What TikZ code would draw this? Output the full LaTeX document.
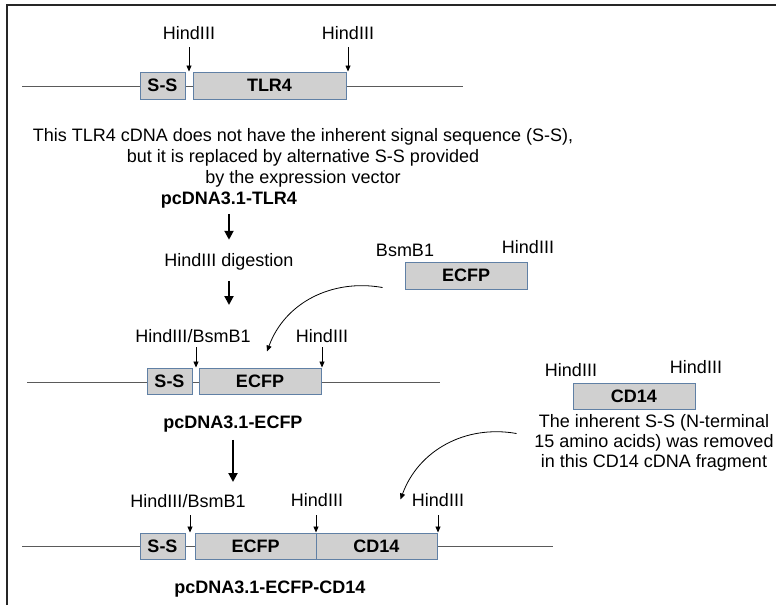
\documentclass[tikz,border=0pt]{standalone}
\usepackage{fontspec}
\setmainfont{Liberation Sans}
\usepackage{tikz}
\usetikzlibrary{positioning}
\usetikzlibrary{calc}
\usetikzlibrary{arrows.meta}

\definecolor{segfill}{RGB}{208,208,208}
\definecolor{segedge}{RGB}{96,128,165}
\definecolor{dnagray}{RGB}{90,90,90}

\begin{document}
\begin{tikzpicture}[x=1pt,y=-1pt,
  font=\fontsize{18}{21}\selectfont,
  seg/.style={draw=segedge, fill=segfill, line width=1pt, minimum height=27pt, inner sep=0pt, font=\fontsize{18}{21}\selectfont\bfseries},
  lab/.style={anchor=base, inner sep=0pt},
  dna/.style={draw=dnagray, line width=0.8pt},
  cut/.style={-{Triangle[length=6pt,width=5pt]}, line width=0.8pt},
  bigarrow/.style={-{Triangle[length=9pt,width=9pt]}, line width=2pt},
  swing/.style={-{Triangle[length=6pt,width=5pt]}, line width=0.8pt}]

\useasboundingbox (0,0) rectangle (776,605);

% frame
\draw[line width=2pt, black!85] (7,605) -- (7,5) -- (776,5);

% pcDNA3.1-TLR4
\draw[dna] (22,86) -- (463,86);
\node[seg, minimum width=45pt] (ss1) at (162.5,85.5) {S-S};
\node[seg, minimum width=153pt] (tlr4) at (269.5,85.5) {TLR4};
\node[lab] (h1a) at (189,39) {HindIII};
\node[lab] (h1b) at (348,39) {HindIII};
\draw[cut] ([yshift=-8pt]h1a.base) -- (h1a |- tlr4.north);
\draw[cut] ([yshift=-8pt]h1b.base) -- (h1b |- tlr4.north);
% base of a multi-line node = its last line
\node[lab, align=center] (note1) at (303,183)
  {This TLR4 cDNA does not have the inherent signal sequence (S-S),\\
   but it is replaced by alternative S-S provided\\
   by the expression vector};
\node[lab, font=\fontsize{18}{21}\selectfont\bfseries] (vec1) at (229,204) {pcDNA3.1-TLR4};

% digestion
\node[lab] (dig) at (229,266) {HindIII digestion};
\draw[bigarrow, shorten <=6pt, shorten >=13pt] (vec1.south) -- (dig.north);
\coordinate (a2) at (229,305);
\draw[bigarrow, shorten <=11pt] (dig.south) -- (a2);

% ECFP fragment
\node[seg, minimum width=122pt] (efree) at (466,275.5) {ECFP};
\node[lab] (bsm) at (405,256) {BsmB1};
\node[lab] (h2f) at (528,253) {HindIII};

% pcDNA3.1-ECFP
\draw[dna] (27,382) -- (440,382);
\node[seg, minimum width=45pt, minimum height=26pt] (ss2) at (169.5,381) {S-S};
\node[seg, minimum width=122pt, minimum height=26pt] (ecfp2) at (260,381) {ECFP};
\node[lab] (h2a) at (193,342) {HindIII/BsmB1};
\node[lab] (h2b) at (322,342) {HindIII};
\draw[cut] ([xshift=3pt,yshift=-5pt]h2a.base) -- ([xshift=3pt]h2a |- ecfp2.north);
\draw[cut] ([yshift=-5pt]h2b.base) -- (h2b |- ecfp2.north);
\draw[swing] ($(efree.west)+(-22,12)$) to[out=170,in=70] ($(ecfp2.north)+(7,-16)$);
\node[lab, font=\fontsize{18}{21}\selectfont\bfseries] (vec2) at (233,428) {pcDNA3.1-ECFP};
\coordinate (a3) at (233,482);
\draw[bigarrow, shorten <=8pt] (vec2.south) -- (a3);

% CD14 fragment
\node[seg, minimum width=122pt, minimum height=26pt] (cdfree) at (634,396) {CD14};
\node[lab] (h3f) at (571,376) {HindIII};
\node[lab] (h3g) at (696,373) {HindIII};
\node[lab, align=center, font=\fontsize{18}{20}\selectfont] (note2) at (654,467)
  {The inherent S-S (N-terminal\\
   15 amino acids) was removed\\
   in this CD14 cDNA fragment};

% pcDNA3.1-ECFP-CD14
\draw[dna] (22,546) -- (553,546);
\node[seg, minimum width=45pt, minimum height=26pt] (ss3) at (162.5,546) {S-S};
\node[seg, minimum width=121pt, minimum height=26pt] (ecfp3) at (255.5,546) {ECFP};
\node[seg, minimum width=121pt, minimum height=26pt] (cd14) at (376.5,546) {CD14};
\node[lab] (h3a) at (188,507) {HindIII/BsmB1};
\node[lab] (h3b) at (317,506) {HindIII};
\node[lab] (h3c) at (438,506) {HindIII};
\draw[cut] ([xshift=2pt,yshift=-8pt]h3a.base) -- ([xshift=2pt]h3a |- ecfp3.north);
\draw[cut] ([xshift=-1pt,yshift=-9pt]h3b.base) -- ([xshift=-1pt]h3b |- cd14.north);
\draw[cut] ([yshift=-9pt]h3c.base) -- (h3c |- cd14.north);
\draw[swing] ($(cdfree.south west)+(-56,24)$) to[out=170,in=70] ($(cd14.north)+(24,-33)$);
\node[lab, font=\fontsize{18}{21}\selectfont\bfseries] (vec3) at (270,593) {pcDNA3.1-ECFP-CD14};

\end{tikzpicture}
\end{document}
